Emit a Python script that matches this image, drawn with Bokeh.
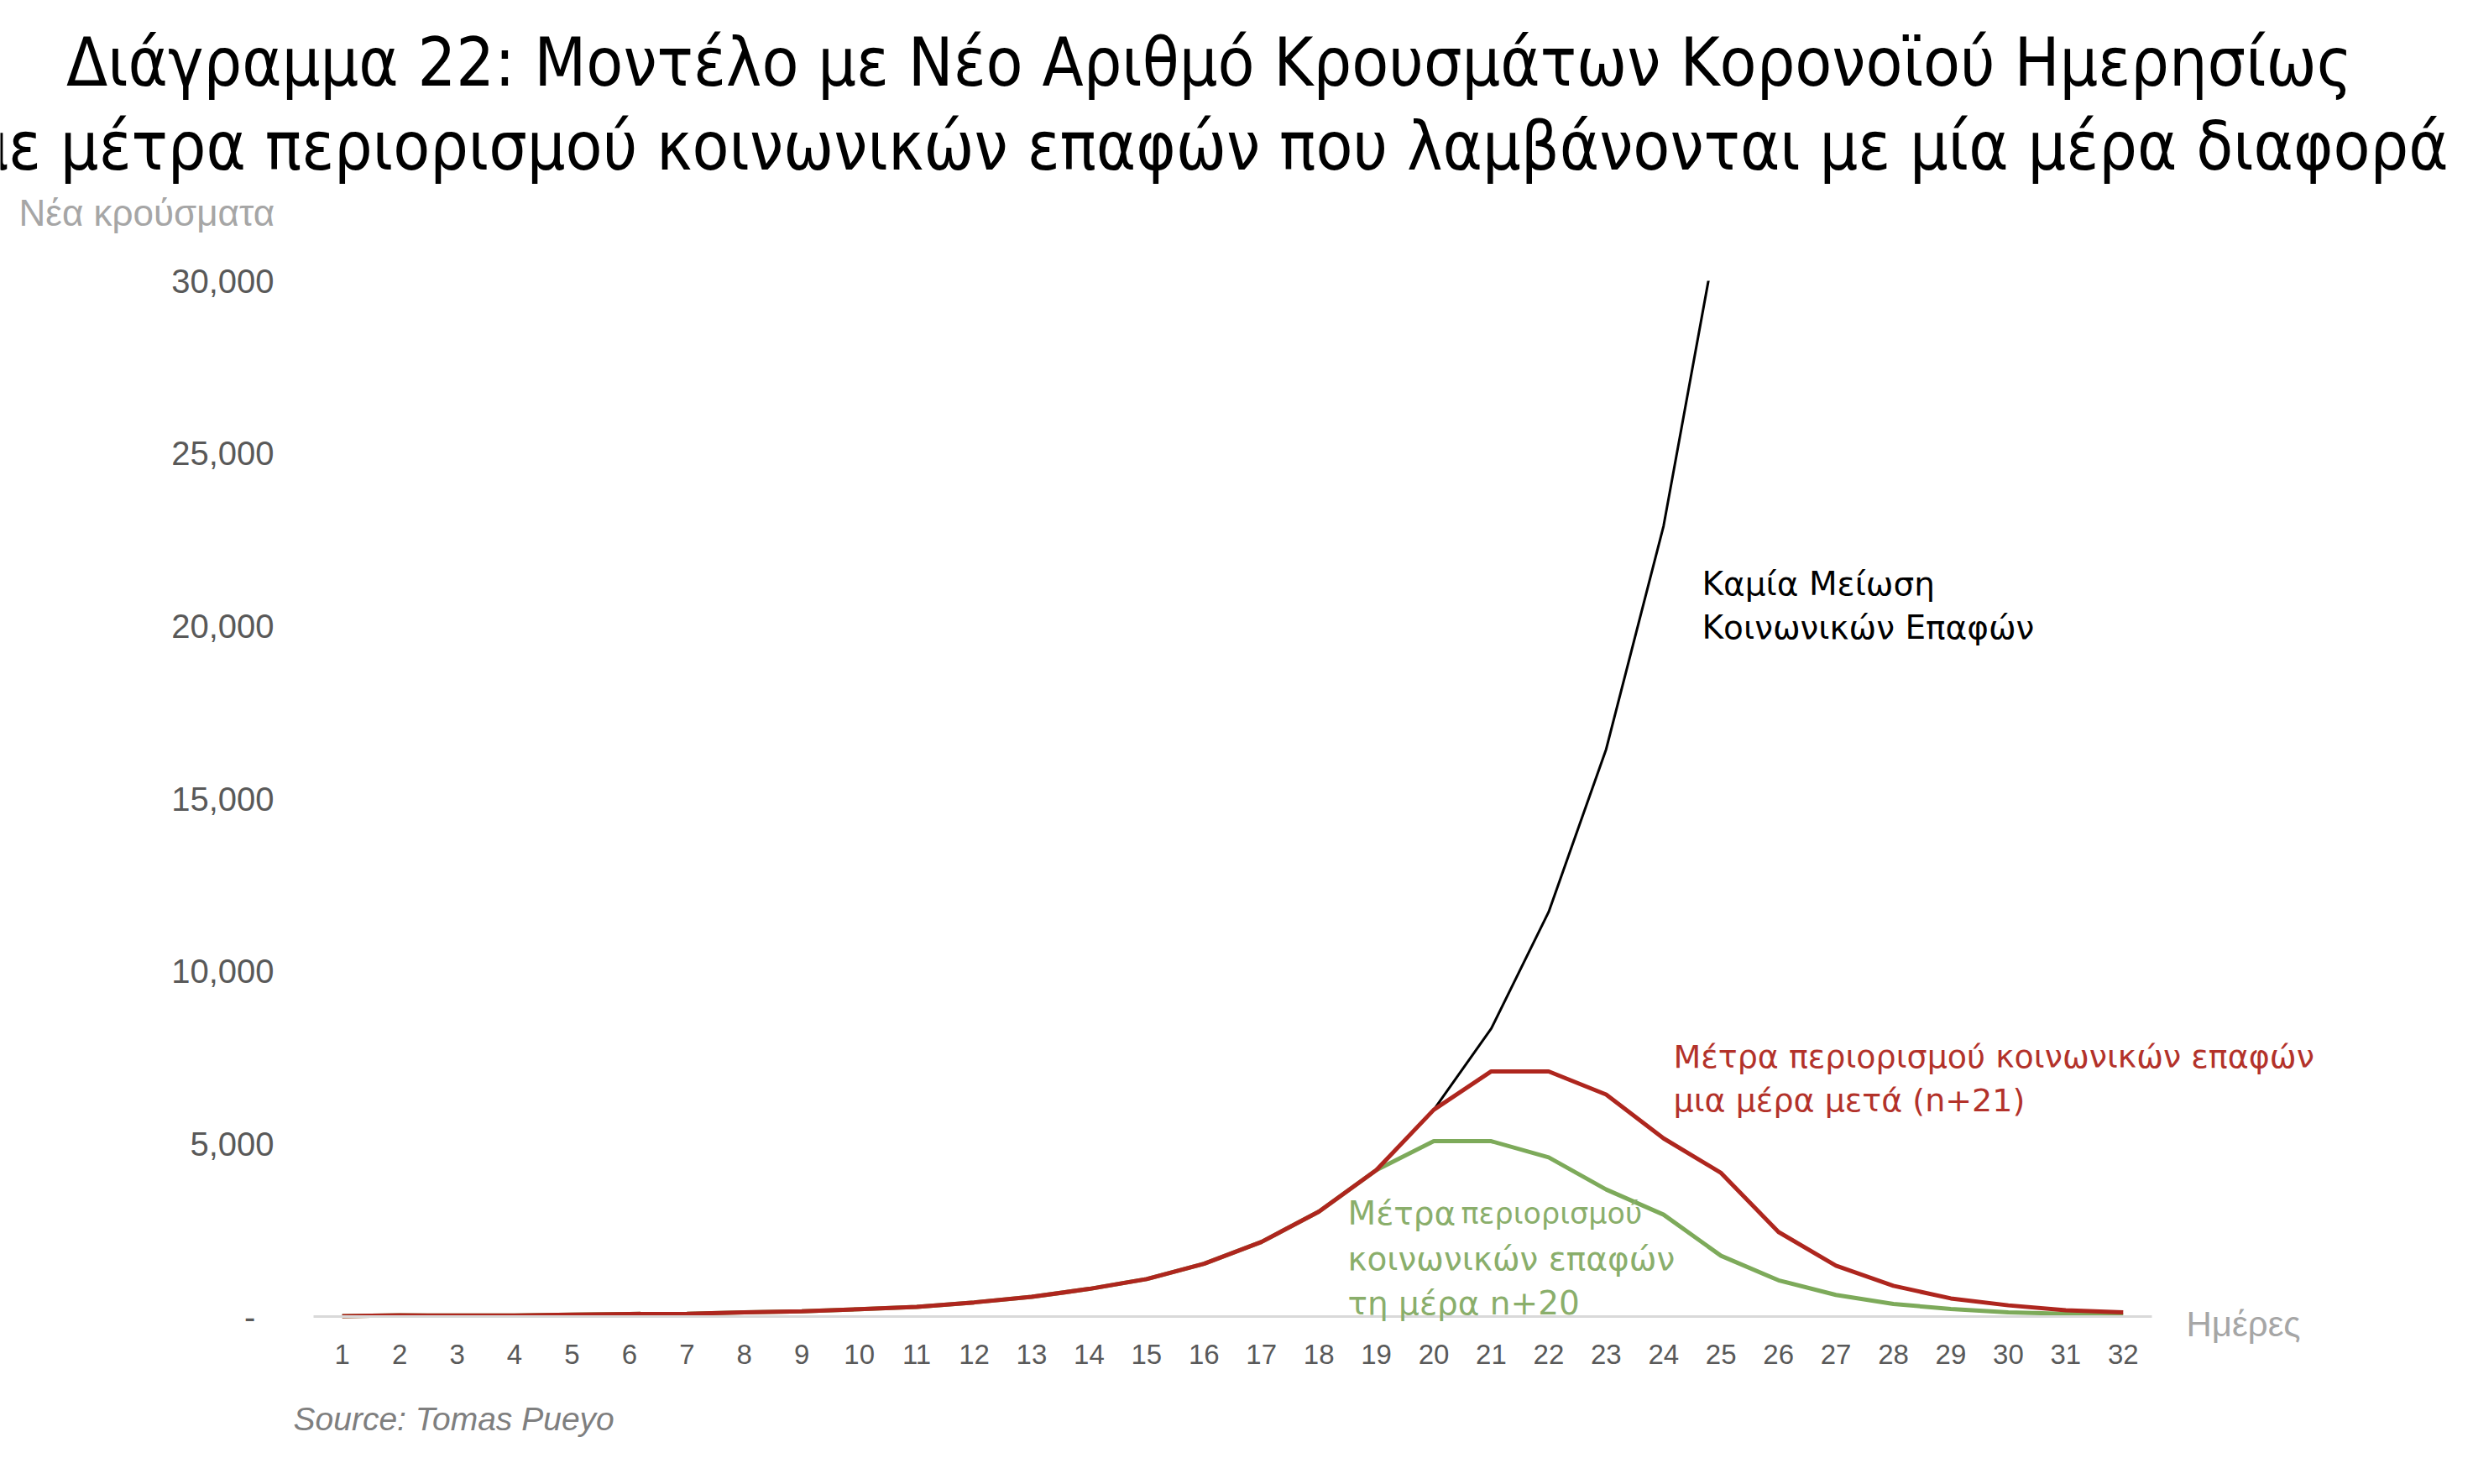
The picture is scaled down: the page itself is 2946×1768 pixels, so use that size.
from bokeh.plotting import figure
from bokeh.models import Label, FixedTicker, BoxAnnotation
from bokeh.embed import file_html
from bokeh.resources import INLINE

# ---------------- data ----------------
days = list(range(1, 33))
day_labels = [str(d) for d in days]

days_no_measures = list(range(1, 26))
no_measures = [10, 35, 30, 30, 55, 75, 80, 120, 150, 215, 280, 410, 570, 800,
               1085, 1530, 2160, 3040, 4240, 5990, 8340, 11720, 16430, 22900, 32000]

measures_n21 = [10, 35, 30, 30, 55, 75, 80, 120, 150, 215, 280, 410, 570, 800,
                1085, 1530, 2160, 3040, 4240, 5990, 7100, 7100, 6430, 5160, 4160,
                2450, 1475, 890, 525, 325, 180, 120]

measures_n20 = [10, 35, 30, 30, 55, 75, 80, 120, 150, 215, 280, 410, 570, 800,
                1085, 1530, 2160, 3040, 4240, 5080, 5080, 4610, 3680, 2950, 1760,
                1050, 625, 365, 220, 120, 80, 35]

y_ticks = [0, 5000, 10000, 15000, 20000, 25000, 30000]
y_tick_labels = ["-\u00a0\u00a0", "5,000", "10,000", "15,000", "20,000", "25,000", "30,000"]

title_lines = ["Διάγραμμα 22: Μοντέλο με Νέο Αριθμό Κρουσμάτων Κορονοϊού Ημερησίως",
               "με μέτρα περιορισμού κοινωνικών επαφών που λαμβάνονται με μία μέρα διαφορά"]

# ---------------- geometry (pixels of the 2946x1768 canvas) ----------------
W, H = 2946, 1768
LEFT, RIGHT, TOP, BOTTOM = 373, 2563, 334, 1568      # plot area of the chart
XMIN, XMAX = days[0] - 0.5, days[-1] + 0.5
YMIN, YMAX = y_ticks[0], y_ticks[-1]

def dx(px):
    return XMIN + (px - LEFT) * (XMAX - XMIN) / (RIGHT - LEFT)

def dy(py):
    return YMIN + (BOTTOM - py) * (YMAX - YMIN) / (BOTTOM - TOP)

ANN_FONT = "DejaVu Sans"
TITLE_FONT = "DejaVu Sans Condensed"
RED = "#ae261e"
RED_TXT = "#b3322a"
GREEN = "#7daa5a"
GREEN_TXT = "#8aae6b"

p = figure(width=W, height=H, x_range=(dx(0), dx(W)), y_range=(dy(H), dy(0)),
           output_backend="svg", toolbar_location=None, min_border=0)
p.outline_line_color = None
p.xgrid.grid_line_color = None
p.ygrid.grid_line_color = None
p.background_fill_color = "white"
p.border_fill_color = "white"

# axes (drawn at fixed data locations)
p.xaxis.fixed_location = 0
p.xaxis.bounds = (XMIN, XMAX)
p.xaxis.ticker = FixedTicker(ticks=days)
p.xaxis.major_label_overrides = {d: l for d, l in zip(days, day_labels)}
p.xaxis.axis_line_color = "#d9d9d9"
p.xaxis.axis_line_width = 3
p.xaxis.major_tick_line_color = None
p.xaxis.minor_tick_line_color = None
p.xaxis.major_tick_out = 0
p.xaxis.major_tick_in = 0
p.xaxis.minor_tick_out = 0
p.xaxis.major_label_standoff = 33
p.xaxis.major_label_text_font = "Liberation Sans"
p.xaxis.major_label_text_font_size = "33px"
p.xaxis.major_label_text_color = "#595959"

p.yaxis.fixed_location = XMIN
p.yaxis.bounds = (YMIN, YMAX)
p.yaxis.ticker = FixedTicker(ticks=y_ticks)
p.yaxis.major_label_overrides = {t: l for t, l in zip(y_ticks, y_tick_labels)}
p.yaxis.axis_line_color = None
p.yaxis.major_tick_line_color = None
p.yaxis.minor_tick_line_color = None
p.yaxis.major_tick_out = 0
p.yaxis.major_tick_in = 0
p.yaxis.minor_tick_out = 0
p.yaxis.major_label_standoff = 47
p.yaxis.major_label_text_font = "Liberation Sans"
p.yaxis.major_label_text_font_size = "40px"
p.yaxis.major_label_text_color = "#595959"

# lines
p.line(days, measures_n20, line_color=GREEN, line_width=5)
p.line(days_no_measures, no_measures, line_color="black", line_width=3)
p.line(days, measures_n21, line_color=RED, line_width=5)

# the chart's value axis stops at its top tick: hide what lies above it
mask = BoxAnnotation(bottom=YMAX, top=dy(0), left=dx(0), right=dx(W),
                     fill_color="white", fill_alpha=1.0, line_color=None, level="glyph")
p.renderers.append(mask)

# texts
def lab(x, y, text, size, color, font=ANN_FONT, align="left", style="normal"):
    p.add_layout(Label(x=x, y=y, text=text, text_font=font, text_font_size=size,
                       text_color=color, text_align=align, text_baseline="alphabetic",
                       text_font_style=style))

lab(dx(1440), dy(74), title_lines[0], "80px", "black", font=TITLE_FONT, align="center")
lab(dx(1440), dy(174), title_lines[1], "80px", "black", font=TITLE_FONT, align="center")

lab(dx(22), dy(253), "Νέα κρούσματα", "44px", "#a6a6a6", font="Liberation Sans")
lab(dx(2604), dy(1577), "Ημέρες", "42px", "#a6a6a6", font="Liberation Sans")
lab(dx(349), dy(1690), "Source: Tomas Pueyo", "39px", "#7f7f7f", font="Liberation Sans", style="italic")

lab(dx(2027), dy(695), "Καμία Μείωση", "39px", "black")
lab(dx(2027), dy(747), "Κοινωνικών Επαφών", "39px", "black")

lab(dx(1993), dy(1258), "Μέτρα περιορισμού κοινωνικών επαφών", "38px", RED_TXT)
lab(dx(1993), dy(1310), "μια μέρα μετά (n+21)", "38px", RED_TXT)

lab(dx(1605), dy(1445), "Μέτρα", "39px", GREEN_TXT)
lab(dx(1740), dy(1445), "περιορισμού", "35px", GREEN_TXT)
lab(dx(1605), dy(1499), "κοινωνικών επαφών", "39px", GREEN_TXT)
lab(dx(1605), dy(1552), "τη μέρα n+20", "39px", GREEN_TXT)

open("out.html", "w").write(file_html(p, INLINE))
